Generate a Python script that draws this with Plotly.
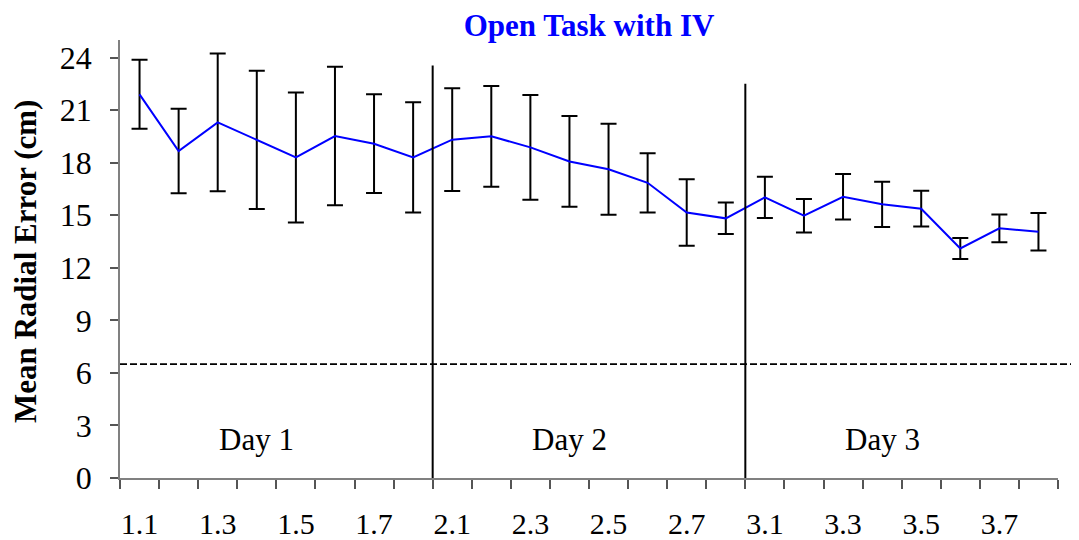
import plotly.graph_objects as go

categories = ["1.1", "1.2", "1.3", "1.4", "1.5", "1.6", "1.7", "1.8",
              "2.1", "2.2", "2.3", "2.4", "2.5", "2.6", "2.7", "2.8",
              "3.1", "3.2", "3.3", "3.4", "3.5", "3.6", "3.7", "3.8"]
mean_error = [21.9, 18.66, 20.3, 19.3, 18.3, 19.52, 19.08, 18.3,
              19.31, 19.5, 18.87, 18.07, 17.62, 16.85, 15.15, 14.82,
              16.02, 14.97, 16.05, 15.62, 15.37, 13.1, 14.25, 14.05]
std_error = [1.97, 2.41, 3.93, 3.94, 3.71, 3.95, 2.82, 3.15,
             2.93, 2.88, 2.99, 2.59, 2.6, 1.69, 1.9, 0.9,
             1.18, 0.96, 1.3, 1.29, 1.02, 0.6, 0.79, 1.07]
tick_labels = ["1.1", "1.3", "1.5", "1.7", "2.1", "2.3", "2.5", "2.7",
               "3.1", "3.3", "3.5", "3.7"]
day_labels = ["Day 1", "Day 2", "Day 3"]
day_label_at = ["1.4", "2.4", "3.4"]
day_breaks = ["1.8", "2.8"]
day_break_tops = [23.55, 22.5]
chance_level = 6.5
y_ticks = [0, 3, 6, 9, 12, 15, 18, 21, 24]

idx = {c: i for i, c in enumerate(categories)}
x = list(range(len(categories)))

fig = go.Figure()
fig.add_trace(go.Scatter(
    x=x, y=mean_error, mode="lines",
    line=dict(color="#0000ff", width=2),
    error_y=dict(type="data", array=std_error, symmetric=True,
                 color="black", thickness=2, width=8),
    showlegend=False, hoverinfo="skip"))

serif = "Liberation Serif, Times New Roman, serif"

shapes = []
for b, top in zip(day_breaks, day_break_tops):
    xv = idx[b] + 0.5
    shapes.append(dict(type="line", xref="x", yref="y", x0=xv, x1=xv,
                       y0=-0.2, y1=top, line=dict(color="black", width=2)))
shapes.append(dict(type="line", xref="paper", yref="y", x0=0, x1=1.03,
                   y0=chance_level, y1=chance_level,
                   line=dict(color="black", width=1.8, dash="7px,3px")))

# page is offset by the browser's 8px body margin; figure is sized to fit
W, H = 1071, 532
annotations = []
for lab, at in zip(day_labels, day_label_at):
    annotations.append(dict(x=idx[at], y=2.2, xref="x", yref="y", text=lab,
                            showarrow=False, font=dict(family=serif, size=31, color="black")))
annotations.append(dict(x=(17 - 112) / 938, y=0.493, xref="paper", yref="paper",
                        text="<b>Mean Radial Error (cm)</b>", textangle=-90,
                        showarrow=False, xanchor="center", yanchor="middle",
                        font=dict(family=serif, size=31, color="black")))

fig.update_layout(
    width=W, height=H,
    margin=dict(l=112, r=21, t=32, b=62),
    paper_bgcolor="white", plot_bgcolor="white",
    title=dict(text="<b>Open Task with IV</b>", x=0.5, xref="paper",
               y=1 - 17 / H, yref="container", xanchor="center", yanchor="middle",
               font=dict(family=serif, size=31, color="#0000ff")),
    shapes=shapes, annotations=annotations,
    xaxis=dict(range=[-0.5, len(categories) - 0.5], automargin=False,
               tickvals=[idx[t] for t in tick_labels], ticktext=tick_labels,
               ticks="outside", ticklen=16, tickcolor="rgba(0,0,0,0)",
               ticklabelstandoff=2,
               tickfont=dict(family=serif, size=30, color="black"),
               showline=True, linecolor="#808080", linewidth=1.5,
               showgrid=False, zeroline=False,
               minor=dict(tickvals=[i - 0.5 for i in range(len(categories) + 1)],
                          ticks="outside", ticklen=9, tickcolor="#555555", tickwidth=1.5,
                          showgrid=False)),
    yaxis=dict(range=[0, 25], tickvals=y_ticks, automargin=False,
               ticks="outside", ticklen=8, tickcolor="#555555", tickwidth=1.5,
               ticklabelstandoff=12,
               tickfont=dict(family=serif, size=32, color="black"),
               showline=True, linecolor="#808080", linewidth=1.5,
               showgrid=False, zeroline=False),
)

fig.write_html("out.html")
